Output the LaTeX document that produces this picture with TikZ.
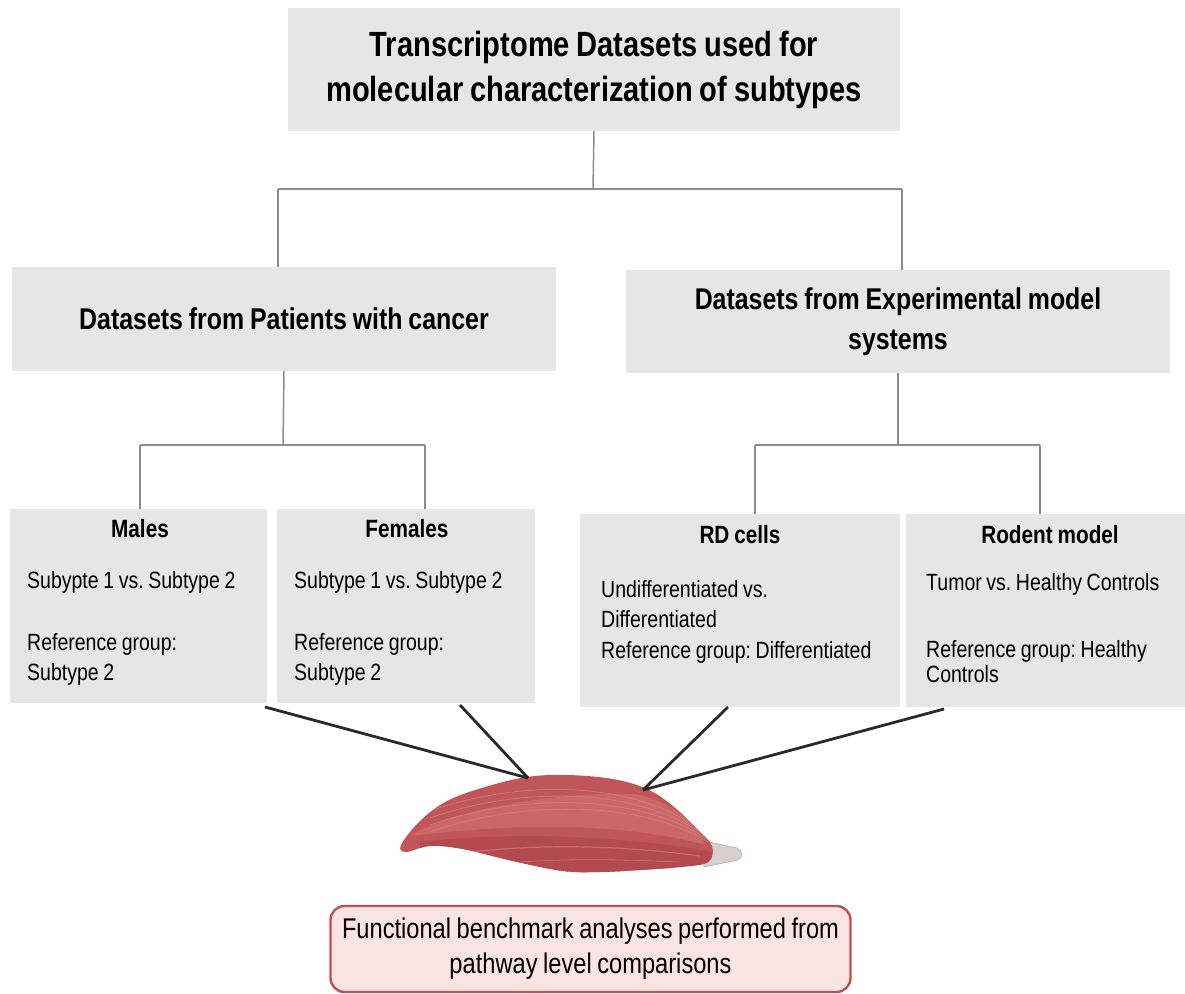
\documentclass[tikz,border=0pt]{standalone}
\usepackage{fontspec}
\setmainfont{Liberation Sans}[FakeStretch=0.83, WordSpace=0.85]
\usetikzlibrary{calc}
\frenchspacing

\definecolor{boxgray}{HTML}{E6E6E6}
\definecolor{linkgray}{HTML}{8C8C8C}
\definecolor{darklink}{HTML}{2A2A2A}
\definecolor{muscle}{HTML}{C0555A}
\definecolor{muscledark}{HTML}{B24A4F}
\definecolor{musclelight}{HTML}{CB6669}
\definecolor{streak}{HTML}{D58385}
\definecolor{tendon}{HTML}{D9CFCF}
\definecolor{notefill}{HTML}{F9E4E2}
\definecolor{noteedge}{HTML}{C0504D}

\tikzset{
  box/.style={fill=boxgray, draw=none, inner sep=0pt},
  tree/.style={draw=linkgray, line width=1.5pt},
  bus/.style={draw=linkgray, line width=2.6pt},
  feed/.style={draw=darklink, line width=2.8pt},
  headA/.style={font=\bfseries\fontsize{35}{45}\selectfont, align=center, text=black},
  headB/.style={font=\bfseries\fontsize{30}{40}\selectfont, align=center, text=black},
  headC/.style={font=\bfseries\fontsize{25}{30}\selectfont, anchor=base, text=black},
  body/.style={font=\fontsize{23.5}{31}\selectfont, anchor=base west, inner sep=0pt, text=black},
  note/.style={draw=noteedge, line width=2.4pt, fill=notefill, rounded corners=14pt,
    font=\fontsize{28.5}{35}\selectfont, align=center, inner sep=0pt}
}

\begin{document}
\frenchspacing
\begin{tikzpicture}[x=1pt, y=-1pt]
\useasboundingbox (0,0) rectangle (1185,993);

% ---------- top level ----------
\node[box, minimum width=612pt, minimum height=123pt, headA] (top) at (594,69.5)
  {Transcriptome Datasets used for\\molecular characterization of subtypes};

% ---------- second level ----------
\node[box, minimum width=544pt, minimum height=104pt, headB] (patients) at (284,319)
  {Datasets from Patients with cancer};
\node[box, minimum width=544pt, minimum height=103pt, headB] (models) at (898,321.5)
  {Datasets from Experimental model\\systems};

% ---------- third level boxes ----------
\node[box, minimum width=257pt, minimum height=194pt] (males)   at (138.5,606) {};
\node[box, minimum width=258pt, minimum height=194pt] (females) at (406,606) {};
\node[box, minimum width=320pt, minimum height=193pt] (rd)      at (740,610.5) {};
\node[box, minimum width=279pt, minimum height=193pt] (rodent)  at (1045.5,610.5) {};

% titles and contents
\node[headC] (malesT)   at (140,537) {Males};
\node[headC] (femalesT) at (407,537) {Females};
\node[headC] (rdT)      at (740,543) {RD cells};
\node[headC] (rodentT)  at (1050,543) {Rodent model};

\node[body] (m1) at (27,588) {Subypte 1 vs. Subtype 2};
\node[body] (m2) at (27,650) {Reference group:};
\node[body] (m3) at (27,680) {Subtype 2};

\node[body] (f1) at (294,588) {Subtype 1 vs. Subtype 2};
\node[body] (f2) at (294,650) {Reference group:};
\node[body] (f3) at (294,680) {Subtype 2};

\node[body] (r1) at (601,597) {Undifferentiated vs.};
\node[body] (r2) at (601,627) {Differentiated};
\node[body] (r3) at (601,658) {Reference group: Differentiated};

\node[body] (t1) at (926,590) {Tumor vs. Healthy Controls};
\node[body] (t2) at (926,657) {Reference group: Healthy};
\node[body] (t3) at (926,682) {Controls};

% ---------- tree connectors ----------
\coordinate (busA) at (593,189);
\coordinate (busAl) at (278,189);
\coordinate (busAr) at (902,189);
\draw[tree] (top.south) -- (busA);
\draw[bus] (busAl) -- (busAr);
\draw[tree] (busAl) -- (busAl |- patients.north);
\draw[tree] (busAr) -- (busAr |- models.north);

\coordinate (busB)  at (283,445);
\coordinate (busBl) at (140,445);
\coordinate (busBr) at (425,445);
\draw[tree] (patients.south) -- (busB);
\draw[bus] (busBl) -- (busBr);
\draw[tree] (busBl) -- (busBl |- males.north);
\draw[tree] (busBr) -- (busBr |- females.north);

\coordinate (busC)  at (898,445);
\coordinate (busCl) at (755,445);
\coordinate (busCr) at (1040,445);
\draw[tree] (models.south) -- (busC);
\draw[bus] (busCl) -- (busCr);
\draw[tree] (busCl) -- (busCl |- rd.north);
\draw[tree] (busCr) -- (busCr |- rodent.north);

% ---------- muscle ----------
% tendon
\fill[tendon, draw=tendon!85!black, line width=0.6pt]
  (700,840) -- (737,848) .. controls (743,850) and (743,858) .. (738,860) -- (704,867) -- cycle;
% belly
\path[fill=muscle] plot[smooth cycle, tension=0.6] coordinates {
  (401,845) (420,821) (447,801) (485,787) (527,777) (567,775) (613,779)
  (647,789) (673,806) (697,829) (712,846) (708,862) (680,867) (640,870)
  (600,872) (563,871) (513,861) (463,849) (430,846) (406,852)};
\begin{scope}
  \clip plot[smooth cycle, tension=0.6] coordinates {
    (401,845) (420,821) (447,801) (485,787) (527,777) (567,775) (613,779)
    (647,789) (673,806) (697,829) (712,846) (708,862) (680,867) (640,870)
    (600,872) (563,871) (513,861) (463,849) (430,846) (406,852)};
  % lighter upper fibres
  \fill[musclelight] (410,836) .. controls (470,800) and (600,790) .. (640,795)
    .. controls (680,805) and (700,830) .. (705,845)
    .. controls (650,830) and (560,818) .. (410,836) -- cycle;
  % darker lower band
  \fill[muscledark] (420,842) .. controls (520,830) and (640,838) .. (712,852)
    -- (712,875) -- (420,875) -- cycle;
  % fibre streaks
  \foreach \d in {0,7,14,21} {
    \draw[streak, line width=0.8pt, opacity=0.7]
      (430,{832-\d}) .. controls (520,{800-\d}) and (640,{800-\d}) .. (708,{842-\d*0.3});
  }
  \draw[streak, line width=1.2pt, opacity=0.6]
    (470,852) .. controls (560,842) and (640,848) .. (700,856);
  \draw[streak, line width=0.8pt, opacity=0.6]
    (520,862) .. controls (580,858) and (630,860) .. (680,862);
\end{scope}
\coordinate (mA) at (528,778);
\coordinate (mB) at (643,790);

% ---------- feeds into the muscle ----------
\coordinate (fm) at (265,707);
\coordinate (ff) at (460,705);
\coordinate (fr) at (728,707);
\coordinate (ft) at (944,709);
\draw[feed] (fm) -- (mA);
\draw[feed] (ff) -- (mA);
\draw[feed] (fr) -- (mB);
\draw[feed] (ft) -- (mB);

% ---------- outcome ----------
\node[note, minimum width=520pt, minimum height=86pt] (outcome) at (590.5,949)
  {Functional benchmark analyses performed from\\pathway level comparisons};

\end{tikzpicture}
\end{document}
